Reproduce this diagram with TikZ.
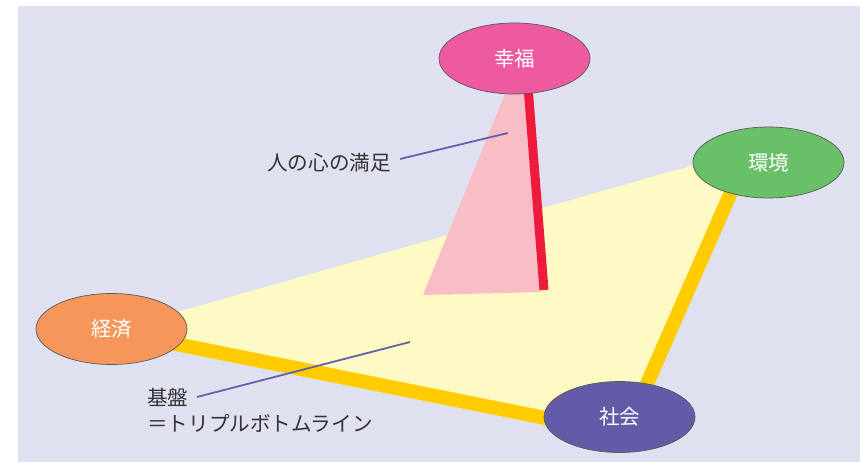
\documentclass[tikz,border=0pt]{standalone}
\usepackage{fontspec}
\setmainfont{Noto Sans CJK JP}
\usetikzlibrary{shapes.geometric}
\definecolor{bgc}{HTML}{DFE1F0}
\definecolor{yel}{HTML}{FFF9C4}
\definecolor{band}{HTML}{FFCC00}
\definecolor{pinkf}{HTML}{F8BDC6}
\definecolor{redl}{HTML}{EE1B3D}
\definecolor{kofuku}{HTML}{EE5A9F}
\definecolor{kankyo}{HTML}{6ABF69}
\definecolor{keizai}{HTML}{F7965A}
\definecolor{shakai}{HTML}{625CA8}
\definecolor{ptr}{HTML}{6460AA}
\definecolor{txt}{HTML}{333333}
\tikzset{
  ell/.style={ellipse, draw=black!65, line width=0.7pt, minimum width=151pt, minimum height=71pt, inner sep=0pt, text=white, font=\fontsize{20.5}{24}\selectfont},
  bandline/.style={draw=band, line width=14pt, line join=round},
  pointer/.style={draw=ptr, line width=1.8pt},
  lbl/.style={text=txt, inner sep=0pt, font=\fontsize{20.6}{25.5}\selectfont}
}
\begin{document}
\begin{tikzpicture}[x=1pt,y=-1pt]
\useasboundingbox (0,0) rectangle (862,462);
\fill[white] (0,0) rectangle (862,462);
\fill[bgc] (18,6) rectangle (860,462);
% base triangle
\coordinate (A) at (111,331);
\coordinate (B) at (750,149);
\coordinate (C) at (625,434);
\fill[yel] (A) -- (B) -- (C) -- cycle;
\draw[bandline] (B) -- (C) -- (A);
% pink wedge and red line
\coordinate (P1) at (522,52);
\coordinate (P2) at (423,295);
\coordinate (P3) at (540,292);
\fill[pinkf] (P1) -- (P2) -- (P3) -- cycle;
\coordinate (R1) at (526.7,70);
\coordinate (R2) at (544,290);
\draw[redl, line width=9pt] (R1) -- (R2);
% ellipses
\node[ell, fill=kofuku] (kf) at (514.5,58.5) {幸福};
\node[ell, fill=kankyo] (kk) at (768.5,162.5) {環境};
\node[ell, fill=keizai] (kz) at (111.5,329) {経済};
\node[ell, fill=shakai] (sk) at (619.5,417) {社会};
% labels and pointers
\node[lbl, anchor=west] (man) at (267,162.5) {人の心の満足};
\coordinate (m1) at (400,159);
\coordinate (m2) at (508,133);
\draw[pointer] (m1) -- (m2);
\node[lbl, anchor=north west, align=left] (kib) at (147,388) {基盤\\＝トリプルボトムライン};
\coordinate (k1) at (197,397);
\coordinate (k2) at (410,342);
\draw[pointer] (k1) -- (k2);
\end{tikzpicture}
\end{document}
